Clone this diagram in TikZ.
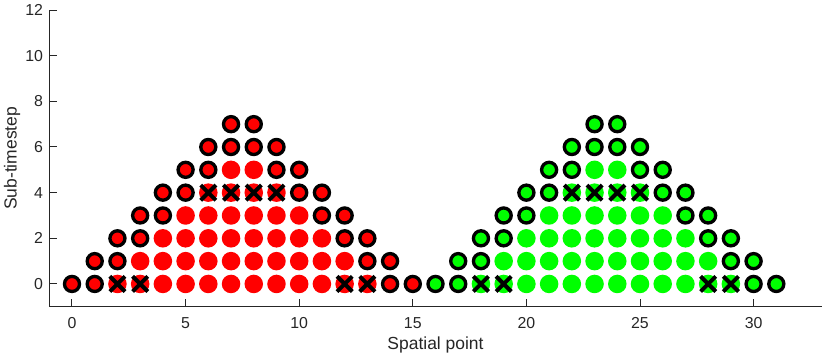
\documentclass[tikz,border=0pt]{standalone}
\usepackage{fontspec}
\setmainfont{Liberation Sans}
\usetikzlibrary{positioning}
\definecolor{axisgray}{RGB}{38,38,38}
\definecolor{redpt}{RGB}{255,0,0}
\definecolor{greenpt}{RGB}{0,255,0}

\begin{document}
\begin{tikzpicture}[
x=17.04pt, y=17.12pt,
axis/.style={draw=axisgray, line width=0.75pt},
ticklabel/.style={text=axisgray, font=\fontsize{11.9}{13}\selectfont, inner sep=0pt},
axislabel/.style={text=axisgray, font=\fontsize{13.1}{15}\selectfont, inner sep=0pt},
ring/.style={draw=black, line width=2.5pt},
cross/.style={draw=black, line width=3pt}
]
\useasboundingbox (-3.169,-3.154) rectangle (33.363,12.44);
% axes and ticks
\draw[axis] (-1,12) -- (-1,-1) -- (33,-1);
\foreach \t in {0,5,...,30}{
  \draw[axis] (\t,-1) -- ++(0,5.8pt);
  \node[ticklabel] (xt\t) at (\t,-1.72) {\t};
}
\foreach \t in {0,2,...,12}{
  \draw[axis] (-1,\t) -- ++(5.8pt,0);
  \node[ticklabel, anchor=east] (yt\t) at (-1.263,\t) {\t};
}
\node[axislabel] (xlabel) at (16,-2.67) {Spatial point};
\node[axislabel, rotate=90] (ylabel) at (-2.64,5.5) {Sub-timestep};
% two triangles of points
\foreach \off/\col in {0/redpt,16/greenpt}{
  \foreach \k in {0,...,7}{
    \pgfmathtruncatemacro{\last}{15-\k}
    \foreach \i in {\k,...,\last}{
      \pgfmathtruncatemacro{\edge}{(\i<\k+2)||(\i>\last-2)}
      \ifnum\edge=1
        \draw[ring, fill=\col] (\off+\i,\k) circle[radius=5.65pt];
      \else
        \fill[\col] (\off+\i,\k) circle[radius=6.95pt];
      \fi
    }
  }
  \foreach \i/\k in {2/0,3/0,12/0,13/0,6/4,7/4,8/4,9/4}
    \draw[cross] (\off+\i,\k) +(-5.7pt,-5.7pt) -- +(5.7pt,5.7pt)
                 +(-5.7pt,5.7pt) -- +(5.7pt,-5.7pt);
}
\end{tikzpicture}
\end{document}
